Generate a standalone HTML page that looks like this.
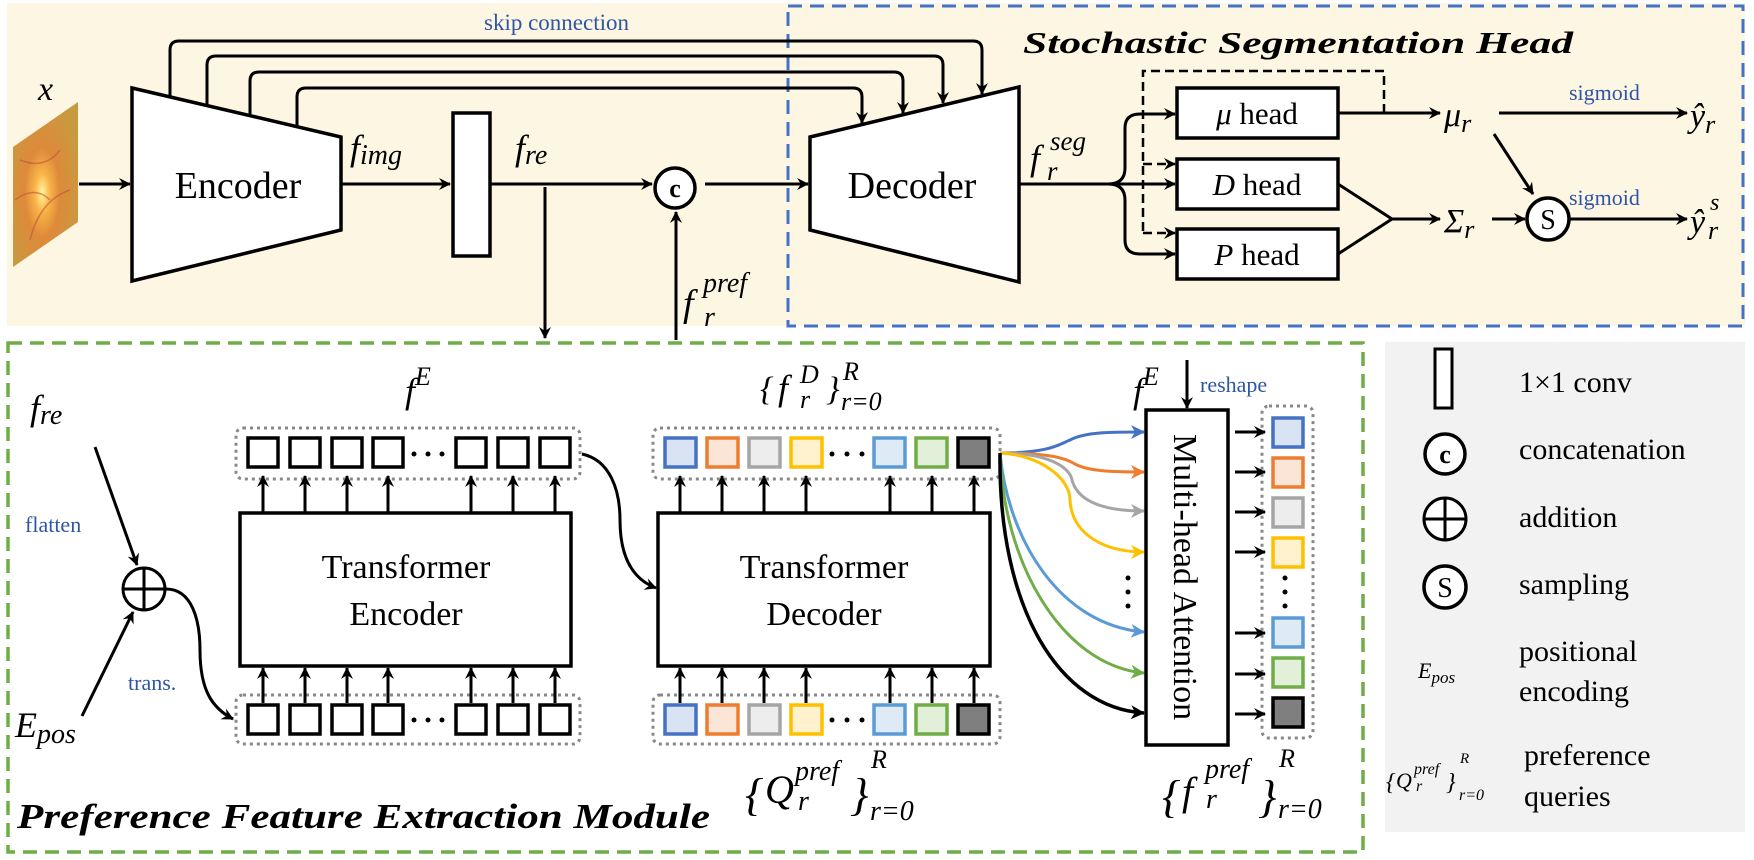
<!DOCTYPE html>
<html><head><meta charset="utf-8"><style>
html,body{margin:0;padding:0;background:#fff;}
svg{display:block;}
text{font-family:"Liberation Serif",serif;}
.m{font-style:italic;}
.bl{fill:#2f55a4;}
</style></head><body>
<svg width="1754" height="860" viewBox="0 0 1754 860" xmlns="http://www.w3.org/2000/svg">
<defs>
<marker id="ak" markerWidth="12" markerHeight="12" refX="11" refY="6" orient="auto" markerUnits="userSpaceOnUse" viewBox="0 0 12 12"><path d="M0,0 L12,6 L0,12 L4,6 z" fill="#000"/></marker>
<marker id="ab" markerWidth="14" markerHeight="14" refX="13" refY="7" orient="auto" markerUnits="userSpaceOnUse" viewBox="0 0 14 14"><path d="M0,0 L14,7 L0,14 L4,7 z" fill="#4472c4"/></marker>
<marker id="ao" markerWidth="14" markerHeight="14" refX="13" refY="7" orient="auto" markerUnits="userSpaceOnUse" viewBox="0 0 14 14"><path d="M0,0 L14,7 L0,14 L4,7 z" fill="#ed7d31"/></marker>
<marker id="ag" markerWidth="14" markerHeight="14" refX="13" refY="7" orient="auto" markerUnits="userSpaceOnUse" viewBox="0 0 14 14"><path d="M0,0 L14,7 L0,14 L4,7 z" fill="#a5a5a5"/></marker>
<marker id="ay" markerWidth="14" markerHeight="14" refX="13" refY="7" orient="auto" markerUnits="userSpaceOnUse" viewBox="0 0 14 14"><path d="M0,0 L14,7 L0,14 L4,7 z" fill="#ffc000"/></marker>
<marker id="al" markerWidth="14" markerHeight="14" refX="13" refY="7" orient="auto" markerUnits="userSpaceOnUse" viewBox="0 0 14 14"><path d="M0,0 L14,7 L0,14 L4,7 z" fill="#5b9bd5"/></marker>
<marker id="an" markerWidth="14" markerHeight="14" refX="13" refY="7" orient="auto" markerUnits="userSpaceOnUse" viewBox="0 0 14 14"><path d="M0,0 L14,7 L0,14 L4,7 z" fill="#70ad47"/></marker>
<marker id="a0" markerWidth="14" markerHeight="14" refX="13" refY="7" orient="auto" markerUnits="userSpaceOnUse" viewBox="0 0 14 14"><path d="M0,0 L14,7 L0,14 L4,7 z" fill="#000"/></marker>
<radialGradient id="ret" cx="0.45" cy="0.55" r="0.6">
<stop offset="0" stop-color="#fff6a0"/><stop offset="0.2" stop-color="#f9b347"/><stop offset="0.45" stop-color="#de8a3a"/><stop offset="1" stop-color="#c89a40"/></radialGradient>
</defs>

<rect x="7" y="3" width="1738" height="323" fill="#fdf6e3"/>
<rect x="1385" y="342" width="360" height="490" fill="#f2f2f2"/>
<rect x="788" y="6" width="955" height="320" fill="none" stroke="#4472c4" stroke-width="3" stroke-dasharray="14 8"/>
<rect x="8" y="343" width="1355" height="509" fill="none" stroke="#70ad47" stroke-width="3.5" stroke-dasharray="14 8"/>

<polygon points="13,147 78,102 78,222 13,267" fill="url(#ret)"/>
<path d="M20,160 Q45,170 60,150 M30,240 Q40,200 70,190 M15,200 Q35,185 50,200" stroke="#c0523a" stroke-width="1.5" fill="none" opacity="0.6"/>
<text x="38" y="100" class="m" font-size="34">x</text>
<line x1="79" y1="184" x2="130" y2="184" stroke="#000" stroke-width="3" marker-end="url(#ak)"/>

<polygon points="132,88 341,137 341,230 132,281" fill="#fff" stroke="#000" stroke-width="3.5"/>
<text x="238" y="198" font-size="38" text-anchor="middle">Encoder</text>

<g fill="none" stroke="#000" stroke-width="3">
<path d="M170,97 L170,50 Q170,41 179,41 L973,41 Q982,41 982,50 L982,94" marker-end="url(#ak)"/>
<path d="M207,105 L207,65 Q207,56 216,56 L934,56 Q943,56 943,65 L943,103" marker-end="url(#ak)"/>
<path d="M250,115 L250,81 Q250,72 259,72 L894,72 Q903,72 903,81 L903,113" marker-end="url(#ak)"/>
<path d="M297,126 L297,97 Q297,88 306,88 L853,88 Q862,88 862,97 L862,123" marker-end="url(#ak)"/>
</g>
<text x="484" y="30" font-size="23" class="bl">skip connection</text>

<text x="350" y="160" class="m" font-size="36">f<tspan font-size="28" dy="4">img</tspan></text>
<line x1="342" y1="184" x2="450" y2="184" stroke="#000" stroke-width="3" marker-end="url(#ak)"/>
<rect x="453" y="113" width="37" height="143" fill="#fff" stroke="#000" stroke-width="3.5"/>
<text x="515" y="160" class="m" font-size="36">f<tspan font-size="28" dy="4">re</tspan></text>
<line x1="491" y1="184" x2="652" y2="184" stroke="#000" stroke-width="3" marker-end="url(#ak)"/>
<line x1="545" y1="187" x2="545" y2="338" stroke="#000" stroke-width="3" marker-end="url(#ak)"/>
<circle cx="675" cy="188" r="20" fill="#fff" stroke="#000" stroke-width="3.5"/>
<text x="675" y="197" font-size="26" font-weight="bold" text-anchor="middle" font-family="Liberation Sans,sans-serif">c</text>
<line x1="676" y1="340" x2="676" y2="212" stroke="#000" stroke-width="3" marker-end="url(#ak)"/>
<text x="683" y="316" class="m" font-size="38">f</text>
<text x="703" y="292" class="m" font-size="28">pref</text>
<text x="704" y="326" class="m" font-size="28">r</text>
<line x1="705" y1="184" x2="808" y2="184" stroke="#000" stroke-width="3" marker-end="url(#ak)"/>

<polygon points="810,137 1019,87 1019,282 810,230" fill="#fff" stroke="#000" stroke-width="3.5"/>
<text x="912" y="198" font-size="38" text-anchor="middle">Decoder</text>
<text x="1030" y="170" class="m" font-size="36">f</text>
<text x="1050" y="150" class="m" font-size="27">seg</text>
<text x="1047" y="180" class="m" font-size="27">r</text>

<text x="1298" y="53" font-size="31" font-weight="bold" font-style="italic" text-anchor="middle" textLength="550" lengthAdjust="spacingAndGlyphs">Stochastic Segmentation Head</text>

<g fill="none" stroke="#000" stroke-width="3">
<line x1="1019" y1="184" x2="1175" y2="184" marker-end="url(#ak)"/>
<path d="M1108,184 Q1125,184 1125,168 L1125,128 Q1125,114 1140,114 L1175,114" marker-end="url(#ak)"/>
<path d="M1108,184 Q1125,184 1125,200 L1125,240 Q1125,254 1140,254 L1175,254" marker-end="url(#ak)"/>
</g>
<g fill="none" stroke="#000" stroke-width="2.5" stroke-dasharray="9 5">
<path d="M1384,113 L1384,71 L1143,71 L1143,233"/>
<line x1="1143" y1="164" x2="1175" y2="164" marker-end="url(#ak)"/>
<line x1="1143" y1="233" x2="1175" y2="233" marker-end="url(#ak)"/>
</g>
<rect x="1177" y="88" width="161" height="50" fill="#fff" stroke="#000" stroke-width="3.5"/>
<rect x="1177" y="159" width="161" height="50" fill="#fff" stroke="#000" stroke-width="3.5"/>
<rect x="1177" y="229" width="161" height="50" fill="#fff" stroke="#000" stroke-width="3.5"/>
<text x="1257" y="124" font-size="31" text-anchor="middle"><tspan class="m">μ</tspan> head</text>
<text x="1257" y="195" font-size="31" text-anchor="middle"><tspan class="m">D</tspan> head</text>
<text x="1257" y="265" font-size="31" text-anchor="middle"><tspan class="m">P</tspan> head</text>

<g fill="none" stroke="#000" stroke-width="3">
<line x1="1338" y1="113" x2="1440" y2="113" marker-end="url(#ak)"/>
<path d="M1338,184 L1392,219 L1338,254"/>
<line x1="1392" y1="219" x2="1440" y2="219" marker-end="url(#ak)"/>
<line x1="1494" y1="134" x2="1533" y2="194" marker-end="url(#ak)"/>
<line x1="1492" y1="219" x2="1525" y2="219" marker-end="url(#ak)"/>
<line x1="1499" y1="113" x2="1687" y2="113" marker-end="url(#ak)"/>
<line x1="1570" y1="219" x2="1687" y2="219" marker-end="url(#ak)"/>
</g>
<text x="1444" y="126" class="m" font-size="34">μ<tspan font-size="26" dy="6">r</tspan></text>
<text x="1444" y="232" class="m" font-size="34">Σ<tspan font-size="26" dy="6">r</tspan></text>
<circle cx="1548" cy="219" r="21" fill="#fff" stroke="#000" stroke-width="3.5"/>
<text x="1548" y="229" font-size="28" text-anchor="middle" font-family="Liberation Sans,sans-serif">S</text>
<text x="1569" y="100" font-size="22" class="bl">sigmoid</text>
<text x="1569" y="205" font-size="22" class="bl">sigmoid</text>
<text x="1690" y="127" class="m" font-size="34">ŷ<tspan font-size="26" dy="6">r</tspan></text>
<text x="1690" y="233" class="m" font-size="34">ŷ</text>
<text x="1710" y="210" class="m" font-size="24">s</text>
<text x="1708" y="239" class="m" font-size="26">r</text>

<text x="30" y="420" class="m" font-size="36">f<tspan font-size="28" dy="4">re</tspan></text>
<line x1="95" y1="447" x2="137" y2="565" stroke="#000" stroke-width="3" marker-end="url(#ak)"/>
<text x="25" y="532" font-size="22" class="bl">flatten</text>
<circle cx="144" cy="589" r="21" fill="#fff" stroke="#000" stroke-width="3"/>
<line x1="123" y1="589" x2="165" y2="589" stroke="#000" stroke-width="3"/>
<line x1="144" y1="568" x2="144" y2="610" stroke="#000" stroke-width="3"/>
<line x1="82" y1="716" x2="133" y2="612" stroke="#000" stroke-width="3" marker-end="url(#ak)"/>
<text x="15" y="737" class="m" font-size="36">E<tspan font-size="28" dy="6">pos</tspan></text>
<text x="128" y="690" font-size="22" class="bl">trans.</text>
<path d="M166,589 C192,589 200,620 200,650 C200,690 212,708 233,719" fill="none" stroke="#000" stroke-width="3" marker-end="url(#ak)"/>

<g fill="none" stroke="#888" stroke-width="3" stroke-dasharray="3 4">
<rect x="236" y="428" width="344" height="51" rx="7"/>
<rect x="236" y="695" width="344" height="49" rx="7"/>
<rect x="653" y="428" width="347" height="51" rx="7"/>
<rect x="653" y="695" width="347" height="49" rx="7"/>
<rect x="1262" y="406" width="51" height="332" rx="7"/>
</g>
<g fill="#fff" stroke="#000" stroke-width="3.5">
<rect x="248" y="438" width="30" height="29"/><rect x="290" y="438" width="30" height="29"/><rect x="332" y="438" width="30" height="29"/><rect x="373" y="438" width="30" height="29"/><rect x="456" y="438" width="30" height="29"/><rect x="498" y="438" width="30" height="29"/><rect x="540" y="438" width="30" height="29"/>
<rect x="248" y="705" width="30" height="29"/><rect x="290" y="705" width="30" height="29"/><rect x="332" y="705" width="30" height="29"/><rect x="373" y="705" width="30" height="29"/><rect x="456" y="705" width="30" height="29"/><rect x="498" y="705" width="30" height="29"/><rect x="540" y="705" width="30" height="29"/>
</g>
<g fill="#000">
<circle cx="414" cy="454" r="2.5"/><circle cx="428" cy="454" r="2.5"/><circle cx="442" cy="454" r="2.5"/>
<circle cx="414" cy="720" r="2.5"/><circle cx="428" cy="720" r="2.5"/><circle cx="442" cy="720" r="2.5"/>
<circle cx="832" cy="454" r="2.5"/><circle cx="847" cy="454" r="2.5"/><circle cx="862" cy="454" r="2.5"/>
<circle cx="832" cy="720" r="2.5"/><circle cx="847" cy="720" r="2.5"/><circle cx="862" cy="720" r="2.5"/>
<circle cx="1128" cy="578" r="2.5"/><circle cx="1128" cy="592" r="2.5"/><circle cx="1128" cy="606" r="2.5"/>
<circle cx="1285" cy="578" r="2.5"/><circle cx="1285" cy="592" r="2.5"/><circle cx="1285" cy="606" r="2.5"/>
</g>
<g stroke="#000" stroke-width="3">
<line x1="263" y1="512" x2="263" y2="476" marker-end="url(#ak)"/><line x1="305" y1="512" x2="305" y2="476" marker-end="url(#ak)"/><line x1="347" y1="512" x2="347" y2="476" marker-end="url(#ak)"/><line x1="388" y1="512" x2="388" y2="476" marker-end="url(#ak)"/><line x1="471" y1="512" x2="471" y2="476" marker-end="url(#ak)"/><line x1="513" y1="512" x2="513" y2="476" marker-end="url(#ak)"/><line x1="555" y1="512" x2="555" y2="476" marker-end="url(#ak)"/>
<line x1="263" y1="703" x2="263" y2="668" marker-end="url(#ak)"/><line x1="305" y1="703" x2="305" y2="668" marker-end="url(#ak)"/><line x1="347" y1="703" x2="347" y2="668" marker-end="url(#ak)"/><line x1="388" y1="703" x2="388" y2="668" marker-end="url(#ak)"/><line x1="471" y1="703" x2="471" y2="668" marker-end="url(#ak)"/><line x1="513" y1="703" x2="513" y2="668" marker-end="url(#ak)"/><line x1="555" y1="703" x2="555" y2="668" marker-end="url(#ak)"/>
<line x1="680" y1="512" x2="680" y2="476" marker-end="url(#ak)"/><line x1="722" y1="512" x2="722" y2="476" marker-end="url(#ak)"/><line x1="764" y1="512" x2="764" y2="476" marker-end="url(#ak)"/><line x1="806" y1="512" x2="806" y2="476" marker-end="url(#ak)"/><line x1="890" y1="512" x2="890" y2="476" marker-end="url(#ak)"/><line x1="932" y1="512" x2="932" y2="476" marker-end="url(#ak)"/><line x1="974" y1="512" x2="974" y2="476" marker-end="url(#ak)"/>
<line x1="680" y1="703" x2="680" y2="668" marker-end="url(#ak)"/><line x1="722" y1="703" x2="722" y2="668" marker-end="url(#ak)"/><line x1="764" y1="703" x2="764" y2="668" marker-end="url(#ak)"/><line x1="806" y1="703" x2="806" y2="668" marker-end="url(#ak)"/><line x1="890" y1="703" x2="890" y2="668" marker-end="url(#ak)"/><line x1="932" y1="703" x2="932" y2="668" marker-end="url(#ak)"/><line x1="974" y1="703" x2="974" y2="668" marker-end="url(#ak)"/>
</g>
<rect x="240" y="513" width="331" height="153" fill="#fff" stroke="#000" stroke-width="3.5"/>
<text x="406" y="578" font-size="34" text-anchor="middle">Transformer</text>
<text x="406" y="625" font-size="34" text-anchor="middle">Encoder</text>
<text x="405" y="403" class="m" font-size="36">f<tspan font-size="26" dy="-18">E</tspan></text>
<path d="M582,454 C610,460 620,490 620,520 C620,560 635,580 656,588" fill="none" stroke="#000" stroke-width="3" marker-end="url(#ak)"/>

<rect x="658" y="513" width="332" height="153" fill="#fff" stroke="#000" stroke-width="3.5"/>
<text x="824" y="578" font-size="34" text-anchor="middle">Transformer</text>
<text x="824" y="625" font-size="34" text-anchor="middle">Decoder</text>

<g stroke-width="3.5">
<rect x="665" y="438" width="31" height="29" fill="#dae3f3" stroke="#4472c4"/><rect x="707" y="438" width="31" height="29" fill="#fbe5d6" stroke="#ed7d31"/><rect x="749" y="438" width="31" height="29" fill="#ededed" stroke="#a5a5a5"/><rect x="791" y="438" width="31" height="29" fill="#fff2cc" stroke="#ffc000"/><rect x="874" y="438" width="31" height="29" fill="#deebf7" stroke="#5b9bd5"/><rect x="916" y="438" width="31" height="29" fill="#e2f0d9" stroke="#70ad47"/><rect x="958" y="438" width="31" height="29" fill="#7f7f7f" stroke="#000"/>
<rect x="665" y="705" width="31" height="29" fill="#dae3f3" stroke="#4472c4"/><rect x="707" y="705" width="31" height="29" fill="#fbe5d6" stroke="#ed7d31"/><rect x="749" y="705" width="31" height="29" fill="#ededed" stroke="#a5a5a5"/><rect x="791" y="705" width="31" height="29" fill="#fff2cc" stroke="#ffc000"/><rect x="874" y="705" width="31" height="29" fill="#deebf7" stroke="#5b9bd5"/><rect x="916" y="705" width="31" height="29" fill="#e2f0d9" stroke="#70ad47"/><rect x="958" y="705" width="31" height="29" fill="#7f7f7f" stroke="#000"/>
<rect x="1273" y="418" width="30" height="29" fill="#dae3f3" stroke="#4472c4"/><rect x="1273" y="458" width="30" height="29" fill="#fbe5d6" stroke="#ed7d31"/><rect x="1273" y="498" width="30" height="29" fill="#ededed" stroke="#a5a5a5"/><rect x="1273" y="538" width="30" height="29" fill="#fff2cc" stroke="#ffc000"/><rect x="1273" y="618" width="30" height="29" fill="#deebf7" stroke="#5b9bd5"/><rect x="1273" y="658" width="30" height="29" fill="#e2f0d9" stroke="#70ad47"/><rect x="1273" y="698" width="30" height="29" fill="#7f7f7f" stroke="#000"/>
</g>

<g class="m">
<text x="760" y="400" font-size="34">{</text>
<text x="778" y="400" font-size="36">f</text>
<text x="800" y="383" font-size="26">D</text>
<text x="800" y="408" font-size="26">r</text>
<text x="826" y="400" font-size="34">}</text>
<text x="843" y="380" font-size="26">R</text>
<text x="841" y="410" font-size="26">r=0</text>
</g>
<g class="m">
<text x="745" y="810" font-size="46">{</text>
<text x="765" y="803" font-size="40">Q</text>
<text x="795" y="780" font-size="28">pref</text>
<text x="798" y="810" font-size="28">r</text>
<text x="850" y="810" font-size="46">}</text>
<text x="871" y="768" font-size="26">R</text>
<text x="870" y="820" font-size="28">r=0</text>
</g>

<g fill="none" stroke-width="3">
<path d="M1000,453 C1050,453 1060,444 1070,440 C1085,432 1110,432 1144,432" stroke="#4472c4" marker-end="url(#ab)"/>
<path d="M1000,453 C1050,453 1065,458 1075,464 C1088,471 1110,472 1144,472" stroke="#ed7d31" marker-end="url(#ao)"/>
<path d="M1000,453 C1050,453 1070,468 1072,480 C1078,502 1105,511 1144,511" stroke="#a5a5a5" marker-end="url(#ag)"/>
<path d="M1000,453 C1040,455 1070,478 1070,500 C1072,535 1105,552 1144,552" stroke="#ffc000" marker-end="url(#ay)"/>
<path d="M1000,453 C1008,540 1060,625 1144,632" stroke="#5b9bd5" marker-end="url(#al)"/>
<path d="M1000,453 C1003,560 1060,665 1144,673" stroke="#70ad47" marker-end="url(#an)"/>
<path d="M1000,453 C998,610 1060,708 1144,713" stroke="#000" stroke-width="3.5" marker-end="url(#a0)"/>
</g>
<rect x="1146" y="410" width="82" height="335" fill="#fff" stroke="#000" stroke-width="3.5"/>
<text transform="translate(1174,577) rotate(90)" font-size="34" text-anchor="middle">Multi-head Attention</text>
<line x1="1187" y1="360" x2="1187" y2="408" stroke="#000" stroke-width="3" marker-end="url(#ak)"/>
<text x="1133" y="403" class="m" font-size="36">f<tspan font-size="26" dy="-18">E</tspan></text>
<text x="1200" y="392" font-size="22" class="bl">reshape</text>
<g stroke="#000" stroke-width="3">
<line x1="1235" y1="432" x2="1265" y2="432" marker-end="url(#ak)"/><line x1="1235" y1="472" x2="1265" y2="472" marker-end="url(#ak)"/><line x1="1235" y1="512" x2="1265" y2="512" marker-end="url(#ak)"/><line x1="1235" y1="552" x2="1265" y2="552" marker-end="url(#ak)"/><line x1="1235" y1="633" x2="1265" y2="633" marker-end="url(#ak)"/><line x1="1235" y1="674" x2="1265" y2="674" marker-end="url(#ak)"/><line x1="1235" y1="714" x2="1265" y2="714" marker-end="url(#ak)"/>
</g>
<g class="m">
<text x="1162" y="812" font-size="46">{</text>
<text x="1182" y="805" font-size="40">f</text>
<text x="1205" y="778" font-size="28">pref</text>
<text x="1206" y="808" font-size="28">r</text>
<text x="1258" y="812" font-size="46">}</text>
<text x="1279" y="767" font-size="26">R</text>
<text x="1278" y="818" font-size="28">r=0</text>
</g>

<text x="17" y="828" font-size="35" font-weight="bold" font-style="italic" textLength="693" lengthAdjust="spacingAndGlyphs">Preference Feature Extraction Module</text>

<rect x="1435" y="349" width="17" height="59" fill="#fff" stroke="#000" stroke-width="3"/>
<text x="1519" y="392" font-size="30">1×1 conv</text>
<circle cx="1445" cy="454" r="20" fill="#fff" stroke="#000" stroke-width="3.5"/>
<text x="1445" y="463" font-size="26" font-weight="bold" text-anchor="middle" font-family="Liberation Sans,sans-serif">c</text>
<text x="1519" y="459" font-size="30">concatenation</text>
<circle cx="1445" cy="519" r="21" fill="#fff" stroke="#000" stroke-width="3"/>
<line x1="1424" y1="519" x2="1466" y2="519" stroke="#000" stroke-width="3"/>
<line x1="1445" y1="498" x2="1445" y2="540" stroke="#000" stroke-width="3"/>
<text x="1519" y="527" font-size="30">addition</text>
<circle cx="1445" cy="587" r="21" fill="#fff" stroke="#000" stroke-width="3.5"/>
<text x="1445" y="597" font-size="28" text-anchor="middle" font-family="Liberation Sans,sans-serif">S</text>
<text x="1519" y="594" font-size="30">sampling</text>
<text x="1418" y="678" class="m" font-size="22">E<tspan font-size="17" dy="5">pos</tspan></text>
<text x="1519" y="661" font-size="30">positional</text>
<text x="1519" y="701" font-size="30">encoding</text>
<g class="m">
<text x="1386" y="790" font-size="24">{</text>
<text x="1396" y="788" font-size="22">Q</text>
<text x="1414" y="774" font-size="16">pref</text>
<text x="1416" y="791" font-size="16">r</text>
<text x="1446" y="790" font-size="24">}</text>
<text x="1460" y="763" font-size="15">R</text>
<text x="1459" y="800" font-size="16">r=0</text>
</g>
<text x="1524" y="765" font-size="30">preference</text>
<text x="1524" y="806" font-size="30">queries</text>
</svg>
</body></html>
